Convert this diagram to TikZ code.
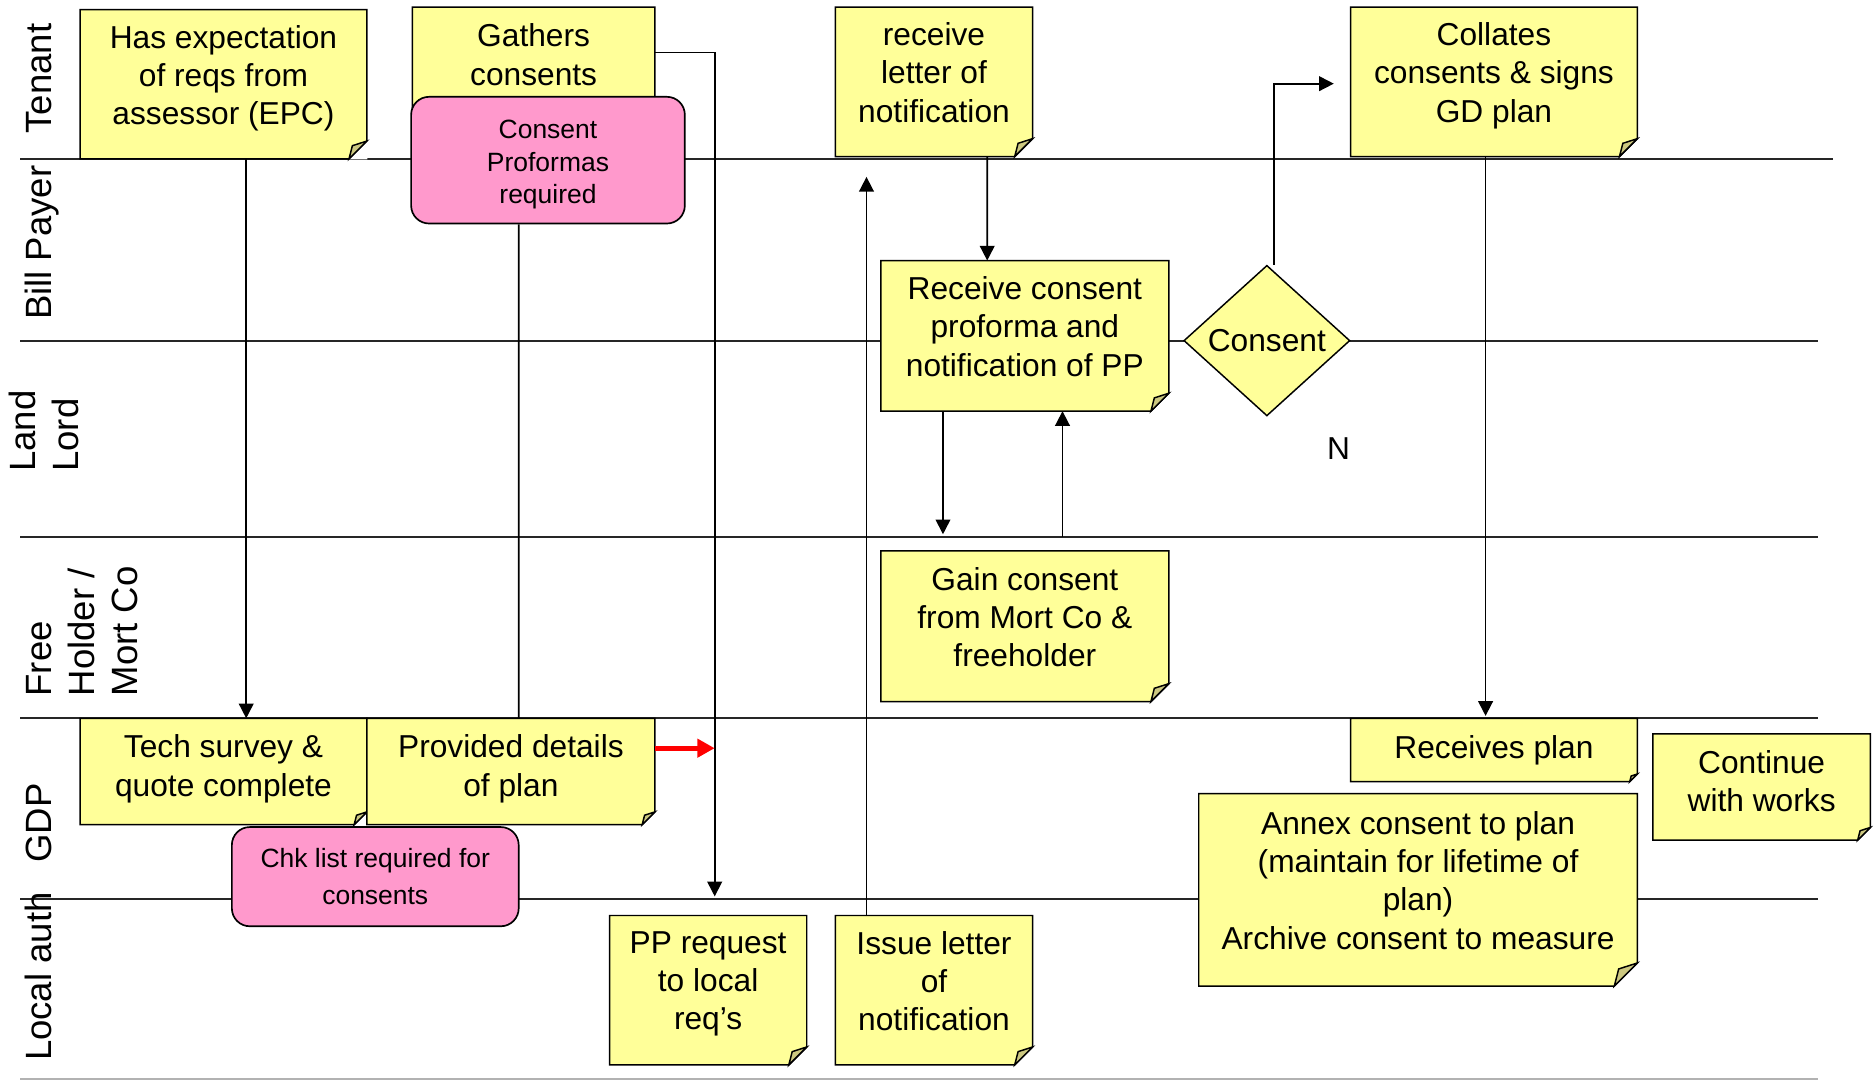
\documentclass[tikz,border=0pt]{standalone}
\usepackage{fontspec}
\setmainfont{Liberation Sans}
\usetikzlibrary{arrows.meta,calc,shapes.geometric}

\definecolor{noteyellow}{RGB}{255,255,153}
\definecolor{notepink}{RGB}{255,153,204}
\definecolor{foldkhaki}{RGB}{204,200,128}

\tikzset{
  boxsize/.style 2 args={minimum width=#1*0.02cm, minimum height=#2*0.02cm},
  note/.style={rectangle, fill=noteyellow, inner sep=0pt, outer sep=0pt, align=center,
    font=\fontsize{15.1}{18.2}\selectfont, execute at end node={\rule[-#1]{0pt}{#1}}},
  note/.default=9pt,
  noteline/.style={draw=black, line width=0.7pt},
  memo/.style={rectangle, rounded corners=0.3cm, draw=black, line width=0.8pt,
    fill=notepink, inner sep=0pt, align=center},
  decision/.style={diamond, aspect=1.1, draw=black, line width=0.7pt, fill=noteyellow,
    inner sep=0pt, font=\fontsize{15.1}{18.2}\selectfont},
  lane/.style={draw=black!85, line width=0.9pt},
  lanelabel/.style={rotate=90, inner sep=0pt, align=left,
    font=\fontsize{17.4}{20.5}\selectfont},
  arr/.style={line width=0.8pt, -{Triangle[length=7pt,width=7pt]}},
  link/.style={line width=0.8pt},
  redarr/.style={red, line width=2.4pt, -{Triangle[length=8.2pt,width=8.5pt]}},
}

% cut corner and folded flap of a sticky note
\newcommand{\foldnote}[2]{%
  \fill[white] ($(#1.south east)+(-#2,0.3)$) -- ($(#1.south east)+(0.3,0.3)$)
    -- ($(#1.south east)+(0.3,-#2)$) -- cycle;
  \draw[noteline] (#1.north west) -- (#1.north east) -- ($(#1.south east)+(0,-#2)$)
    -- ($(#1.south east)+(-#2,0)$) -- (#1.south west) -- cycle;
  \draw[noteline, fill=foldkhaki] ($(#1.south east)+(-#2,0)$) -- ($(#1.south east)+(0,-#2)$)
    -- ($(#1.south east)+(-0.81*#2,-0.74*#2)$) -- cycle;
}

\begin{document}
\begin{tikzpicture}[x=0.02cm, y=-0.02cm]
    \useasboundingbox (0,0) rectangle (1568,904);

    % Lane separators
    \draw[lane] (17,133) -- (1534,133);
    \foreach \y in {285,449,601,752}
        \draw[lane] (17,\y) -- (1521,\y);
    \draw[gray!60, line width=0.8pt] (17,903) -- (1521,903);

    % Lane names
    \node[lanelabel, anchor=base west] (ltenant) at (43,112) {Tenant};
    \node[lanelabel, anchor=base west] (lbill) at (43,268) {Bill Payer};
    \node[lanelabel, anchor=south west] (lland) at (66,395) {Land\\Lord};
    \node[lanelabel, anchor=south west] (lfree) at (116,583) {Free\\Holder /\\Mort Co};
    \node[lanelabel, anchor=base west] (lgdp) at (43,722) {GDP};
    \node[lanelabel, anchor=base west] (llocal) at (43,888) {Local auth};

    % Tenant
    \node[note, boxsize={240}{125}] (expect) at (187,70.5) {Has expectation\\of reqs from\\assessor (EPC)};
    \foldnote{expect}{15}
    \node[note=5.6pt, boxsize={203}{89}] (gather) at (446.5,50.5) {Gathers\\consents};
    \foldnote{gather}{10.7}
    \node[memo, boxsize={229}{106}, font=\fontsize{12.6}{15.4}\selectfont] (proformas) at (458.5,134) {\rule{0pt}{13pt}Consent\\Proformas\\required};
    \node[note, boxsize={165}{125}] (recvletter) at (781.5,68.5) {receive\\letter of\\notification};
    \foldnote{recvletter}{15}
    \node[note, boxsize={240}{125}] (collates) at (1250,68.5) {Collates\\consents \& signs\\GD plan};
    \foldnote{collates}{15}

    % Bill payer / land lord
    \node[note, boxsize={241}{126}] (recvconsent) at (857.5,281) {Receive consent\\proforma and\\notification of PP};
    \foldnote{recvconsent}{15}
    \node[decision, boxsize={139}{126}] (consent) at (1060,285) {Consent};
    \node[font=\fontsize{15.1}{18.2}\selectfont] (nmark) at (1120,375) {N};

    % Free holder
    \node[note, boxsize={241}{126}] (gain) at (857.5,524) {Gain consent\\from Mort Co \&\\freeholder};
    \foldnote{gain}{15}

    % GDP
    \node[note=5.6pt, boxsize={240}{89}] (techsurvey) at (187,645.5) {Tech survey \&\\quote complete};
    \foldnote{techsurvey}{10.7}
    \node[note=5.6pt, boxsize={241}{89}] (details) at (427.5,645.5) {Provided details\\of plan};
    \foldnote{details}{10.7}
    \node[memo, boxsize={240}{83}, font=\fontsize{12.6}{17.6}\selectfont] (chklist) at (314,733.5) {Chk list required for\\consents};
    \node[note=0pt, boxsize={240}{53}] (recvplan) at (1250,627.5) {Receives plan};
    \foldnote{recvplan}{6.4}
    \node[note=5.6pt, boxsize={182}{89}] (continue) at (1474,658.5) {Continue\\with works};
    \foldnote{continue}{10.7}
    \node[note, boxsize={367}{161}] (annex) at (1186.5,744.5) {Annex consent to plan\\(maintain for lifetime of\\plan)\\Archive consent to measure};
    \foldnote{annex}{19.3}

    % Local auth
    \node[note, boxsize={165}{125}] (pprequest) at (592.5,828.5) {PP request\\to local\\req’s};
    \foldnote{pprequest}{15}
    \node[note, boxsize={165}{125}] (issue) at (781.5,828.5) {Issue letter\\of\\notification};
    \foldnote{issue}{15}

    % Flow
    \draw[arr] ($(expect.south)+(19,0)$) -- ($(techsurvey.north)+(19,0)$);
    \draw[link] ($(proformas.south)+(-24.5,0)$) -- ($(details.north)+(6.5,0)$);
    \draw[arr] ($(gather.east)+(0,-6.5)$) -| ($(pprequest.north)+(5.5,-16)$);
    \draw[redarr] ($(details.east)+(0,-19.5)$) -- ++(50,0);
    \draw[arr] ($(issue.north)+(-56.5,0)$) -- ($(recvletter.south)+(-56.5,17)$);
    \draw[arr] ($(recvletter.south)+(44.5,0)$) -- ($(recvconsent.north)+(-31.5,0)$);
    \draw[arr] ($(recvconsent.south)+(-68.5,0)$) -- ($(gain.north)+(-68.5,-14)$);
    \draw[arr] ($(gain.north)+(31.5,-12)$) -- ($(recvconsent.south)+(31.5,0)$);
    \draw[arr] ($(consent.north)+(6,0)$) |- ($(collates.west)+(-14,1.5)$);
    \draw[arr] ($(collates.south)+(-7,0)$) -- ($(recvplan.north)+(-7,-2)$);

\end{tikzpicture}
\end{document}
